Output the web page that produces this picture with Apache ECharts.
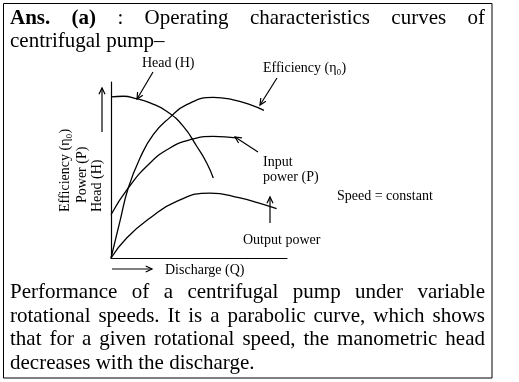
<!DOCTYPE html>
<html><head><meta charset="utf-8">
<script src="https://cdn.jsdelivr.net/npm/echarts@6/dist/echarts.min.js"></script>
<style>html,body{margin:0;padding:0;background:#fff}#c{width:519px;height:382px}</style>
</head><body><div id="c"></div>
<script>
// Discharge values (Q, % of axis) and curve values (% of axis)
const headQ = [0, 7, 14.6, 22.2, 31.6, 41.1, 48.7, 54.4, 58.1];
const headH = [91.5, 91.9, 90.5, 88.1, 83.4, 74.8, 63.5, 54.0, 45.5];
const effQ = [0, 5.1, 9.8, 16.5, 24.0, 33.5, 43.0, 58.1, 69.5, 79.0, 86.9];
const effE = [0, 20.9, 39.8, 56.8, 70.1, 79.9, 87.1, 91.3, 89.9, 87.1, 83.9];
const inQ = [0, 9.8, 22.2, 33.5, 44.9, 58.1, 71.4];
const inP = [24.6, 39.8, 54.0, 62.5, 67.2, 69.1, 68.2];
const outQ = [0, 8.9, 22.2, 37.3, 56.3, 73.3, 83.7, 94.1];
const outP = [0, 11.4, 22.7, 32.2, 36.9, 34.1, 31.3, 28.0];

const topLine1 = [['Ans.', true], ['(a)', true], [':', false], ['Operating', false], ['characteristics', false], ['curves', false], ['of', false]];
const topLine2 = 'centrifugal pump–';
const paraLines = [
  'Performance of a centrifugal pump under variable',
  'rotational speeds. It is a parabolic curve, which shows',
  'that for a given rotational speed, the manometric head'
];
const paraLast = 'decreases with the discharge.';

const FONT = '"Liberation Serif", "Times New Roman", serif';
const BIG = 21, SMALL = 14;
const zip = (a, b) => a.map((v, i) => [v, b[i]]);

const chart = echarts.init(document.getElementById('c'), null, {renderer: 'canvas'});
const ctx = document.createElement('canvas').getContext('2d');
function measure(t, size, bold) {
  ctx.font = (bold ? 'bold ' : '') + size + 'px ' + FONT;
  return ctx.measureText(t).width;
}
const graphics = [];
function txt(t, x, y, size, opts) {
  opts = opts || {};
  graphics.push({
    type: 'text', x: x, y: y, rotation: opts.rot || 0, silent: true,
    style: {
      text: t, fill: '#000', fontFamily: FONT, fontSize: size,
      fontWeight: opts.bold ? 'bold' : 'normal',
      align: opts.align || 'left', verticalAlign: 'middle'
    }
  });
}
function justify(words, y, L, R, size) {
  const ws = words.map(w => measure(w[0], size, w[1]));
  const total = ws.reduce((a, b) => a + b, 0);
  const gap = (R - L - total) / (words.length - 1);
  let x = L;
  words.forEach((w, i) => { txt(w[0], x, y, size, {bold: w[1]}); x += ws[i] + gap; });
}
function arrow(x1, y1, x2, y2) {
  const a = Math.atan2(y2 - y1, x2 - x1), len = 7, sp = 0.45;
  graphics.push({type: 'polyline', silent: true, shape: {points: [[x1, y1], [x2, y2]]}, style: {stroke: '#000', lineWidth: 1.2}});
  graphics.push({type: 'polyline', silent: true, shape: {points: [
    [x2 - len * Math.cos(a - sp), y2 - len * Math.sin(a - sp)], [x2, y2],
    [x2 - len * Math.cos(a + sp), y2 - len * Math.sin(a + sp)]]}, style: {stroke: '#000', lineWidth: 1.2, fill: null}});
}

// Border
graphics.push({type: 'rect', silent: true, shape: {x: 3.5, y: 3.5, width: 488.5, height: 374.5}, style: {stroke: '#000', lineWidth: 1, fill: null}});
// Header
justify(topLine1, 18.5, 10, 485, BIG);
txt(topLine2, 10, 41.5, BIG);
// Paragraph
paraLines.forEach((l, i) => justify(l.split(' ').map(w => [w, false]), 292.5 + i * 23.5, 10, 485, BIG));
txt(paraLast, 10, 292.5 + 3 * 23.5, BIG);

// Chart labels
txt('Head (H)', 142, 63, SMALL);
txt('Efficiency (η₀)', 263, 68, SMALL);
txt('Input', 263, 162, SMALL);
txt('power (P)', 263, 177, SMALL);
txt('Speed = constant', 337, 196, SMALL);
txt('Output power', 243, 240, SMALL);
txt('Discharge (Q)', 165, 270, SMALL);
txt('Efficiency (η₀)', 65, 212, SMALL, {rot: Math.PI / 2});
txt('Power (P)', 82, 203, SMALL, {rot: Math.PI / 2});
txt('Head (H)', 97, 212, SMALL, {rot: Math.PI / 2});

// Arrows
arrow(153, 72, 137, 99);
arrow(277, 78, 260, 105);
arrow(258, 152, 235, 137);
arrow(270, 223, 270, 197);
arrow(102, 132, 102, 88);
arrow(112, 269, 152, 269);

const axisCommon = {
  type: 'value', min: 0, max: 100,
  axisLine: {show: true, lineStyle: {color: '#000', width: 1.2}},
  axisTick: {show: false}, axisLabel: {show: false}, splitLine: {show: false}
};
const lineCommon = {type: 'line', smooth: 0.5, symbol: 'none', silent: true,
  lineStyle: {color: '#000', width: 1.3}};

chart.setOption({
  animation: false,
  backgroundColor: '#fff',
  grid: {left: 111, top: 82, width: 176, height: 176},
  xAxis: axisCommon,
  yAxis: axisCommon,
  series: [
    Object.assign({name: 'Head (H)', data: zip(headQ, headH)}, lineCommon),
    Object.assign({name: 'Efficiency', data: zip(effQ, effE)}, lineCommon),
    Object.assign({name: 'Input power (P)', data: zip(inQ, inP)}, lineCommon),
    Object.assign({name: 'Output power', data: zip(outQ, outP)}, lineCommon)
  ],
  graphic: {elements: graphics}
});
</script></body></html>
